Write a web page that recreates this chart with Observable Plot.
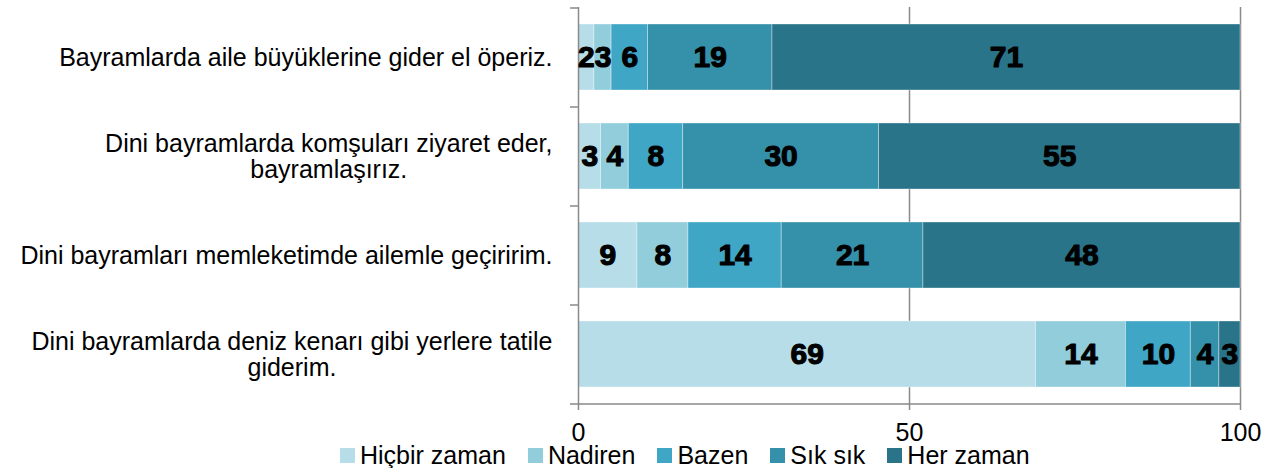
<!DOCTYPE html>
<html>
<head>
<meta charset="utf-8">
<script src="https://cdn.jsdelivr.net/npm/d3@7"></script>
<script src="https://cdn.jsdelivr.net/npm/@observablehq/plot@0.6"></script>
<style>
  body { margin: 0; background: #fff; font-family: "Liberation Sans", Arial, sans-serif; }
  #legend { display: flex; align-items: center; margin-left: 340px; margin-top: -2px; height: 25px; font-size: 25px; line-height: 25px; color: #000; }
  #legend .item { display: flex; align-items: center; margin-right: 22px; }
  #legend .sw { width: 15px; height: 15px; margin-right: 5px; }
</style>
</head>
<body>
<div id="chart"></div>
<div id="legend"></div>
<script>
const items = [
  "Bayramlarda aile büyüklerine gider el öperiz.",
  "Dini bayramlarda komşuları ziyaret eder,\nbayramlaşırız.",
  "Dini bayramları memleketimde ailemle geçiririm.",
  "Dini bayramlarda deniz kenarı gibi yerlere tatile\ngiderim."
];
const responses = ["Hiçbir zaman", "Nadiren", "Bazen", "Sık sık", "Her zaman"];
const colors = ["#b7dee8", "#92cddc", "#3fa6c5", "#3590aa", "#2a7489"];

const hicbirZaman = [2.4, 3.4, 8.9, 69.1];
const nadiren     = [2.6, 4.2, 7.7, 13.6];
const bazen       = [5.5, 8.2, 14.1, 9.8];
const sikSik      = [18.8, 29.6, 21.4, 4.3];
const herZaman    = [70.7, 54.6, 47.9, 3.2];
const xTicks = [0, 50, 100];

const series = [hicbirZaman, nadiren, bazen, sikSik, herZaman];
const data = [];
items.forEach((item, i) => {
  responses.forEach((r, j) => data.push({item, response: r, value: series[j][i]}));
});

const gray = "#8a8a8a";
const lastItem = items[items.length - 1];

const plot = Plot.plot({
  width: 1279,
  height: 445,
  marginLeft: 578,
  marginRight: 39,
  marginTop: 7,
  marginBottom: 42,
  style: { fontFamily: "Liberation Sans, Arial, sans-serif", fontSize: "25px", color: "#000", background: "#fff", display: "block", overflow: "visible" },
  x: { domain: [0, 100], axis: null, label: null },
  y: { domain: items, paddingInner: 1/3, paddingOuter: 1/6, axis: null, label: null },
  color: { domain: responses, range: colors },
  marks: [
    Plot.ruleX([50, 100], { stroke: gray, strokeWidth: 1.5 }),
    Plot.barX(data, Plot.stackX({ x: "value", y: "item", fill: "response", order: responses, stroke: "#ffffff", strokeOpacity: 0.35, strokeWidth: 1 })),
    Plot.ruleX([0], { stroke: gray, strokeWidth: 1.5 }),
    Plot.ruleY([lastItem], { y: d => d, x1: 0, x2: 100, dy: 49.5, stroke: gray, strokeWidth: 1.5 }),
    Plot.ruleY(items, { y: d => d, x1: 0, x2: 0, insetLeft: -8, dy: -49.5, stroke: gray, strokeWidth: 1.5 }),
    Plot.ruleY([lastItem], { y: d => d, x1: 0, x2: 0, insetLeft: -8, dy: 49.5, stroke: gray, strokeWidth: 1.5 }),
    Plot.text(data, Plot.stackX({ x: "value", y: "item", z: "response", order: responses, text: d => Math.round(d.value), fill: "#000", stroke: "#000", strokeWidth: 1.1, fontSize: 30, fontWeight: "bold" })),
    Plot.axisX(xTicks, { anchor: "bottom", label: null, tickSize: 7, tickPadding: 13, stroke: gray, strokeWidth: 1.5, fontSize: 25 }),
    Plot.axisY({ anchor: "left", label: null, tickSize: 0, tickPadding: 26, fontSize: 25, lineHeight: 1.05, tickFormat: d => d })
  ]
});

document.getElementById("chart").appendChild(plot);

// center multi-line category labels on their longest line (as in the original)
plot.querySelectorAll('g[aria-label="y-axis tick label"] text').forEach(t => {
  if (t.querySelectorAll("tspan").length > 1) {
    const w = t.getBBox().width;
    t.setAttribute("text-anchor", "middle");
    const tr = t.getAttribute("transform") || "";
    t.setAttribute("transform", tr + ` translate(${-w / 2},0)`);
  }
});

const legend = document.getElementById("legend");
responses.forEach((r, i) => {
  const it = document.createElement("div");
  it.className = "item";
  const sw = document.createElement("div");
  sw.className = "sw";
  sw.style.background = colors[i];
  const lab = document.createElement("span");
  lab.textContent = r;
  it.appendChild(sw);
  it.appendChild(lab);
  legend.appendChild(it);
});
</script>
</body>
</html>
